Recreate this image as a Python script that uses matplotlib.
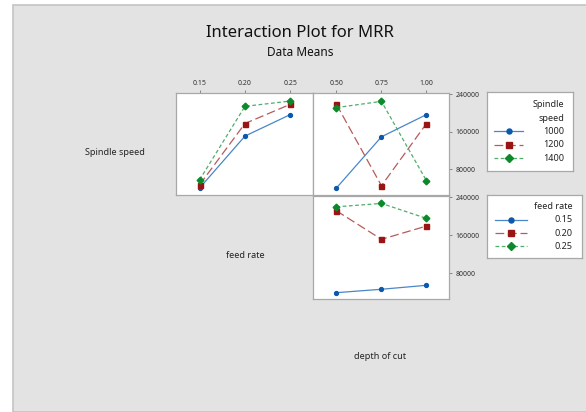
import matplotlib.pyplot as plt
import numpy as np
from matplotlib.lines import Line2D
from matplotlib.patches import Rectangle

plt.rcParams['font.family'] = ['Noto Sans', 'DejaVu Sans']

# factor levels
feed_levels = [0.15, 0.20, 0.25]
depth_levels = [0.50, 0.75, 1.00]
spindle_levels = [1000, 1200, 1400]

# mean MRR, spindle speed x feed rate (rows = spindle speed)
spindle_by_feed = [
    [39900, 150900, 196900],
    [46900, 177800, 218800],
    [57500, 214500, 225800],
]
# spindle speed x depth of cut
spindle_by_depth = [
    [39900, 149400, 196900],
    [218800, 44800, 177800],
    [211800, 225100, 55400],
]
# feed rate x depth of cut (rows = feed rate)
feed_by_depth = [
    [38400, 45600, 54000],
    [211700, 151300, 179400],
    [220100, 227300, 195600],
]

yticks = [80000, 160000, 240000]

colors = ['#0a58b0', '#9a1414', '#0a8a2a']
line_colors = ['#4a86c8', '#b85a5a', '#4fae6a']
markers = ['o', 's', 'D']
msizes = [2.8, 3.6, 3.4]
styles = ['-', (0, (7, 3)), (0, (3, 2))]

bg = '#e3e3e3'
edge = '#a8a8a8'

fig = plt.figure(figsize=(5.86, 4.12), dpi=100)
fig.patch.set_facecolor('white')
fig.add_artist(Rectangle((13 / 586, 0), 1, 1 - 5 / 412, transform=fig.transFigure,
                         facecolor=bg, edgecolor='#c4c4c4', lw=1.2, zorder=-10))

fig.text(0.512, 0.92, 'Interaction Plot for MRR', ha='center', va='center', fontsize=12, color='#111111')
fig.text(0.512, 0.873, 'Data Means', ha='center', va='center', fontsize=8.5, color='#111111')

fig.text(0.196, 0.631, 'Spindle speed', ha='center', va='center', fontsize=6.5, color='#222222')
fig.text(0.418, 0.381, 'feed rate', ha='center', va='center', fontsize=6.5, color='#222222')
fig.text(0.648, 0.134, 'depth of cut', ha='center', va='center', fontsize=6.5, color='#222222')


def make_panel(rect, xs, rows, top_ticks, right_ticks):
    ax = fig.add_axes(rect)
    ax.set_facecolor('white')
    for i, ys in enumerate(rows):
        ax.plot(xs, ys, color=line_colors[i], ls=styles[i], lw=0.9)
        ax.plot(xs, ys, ls='none', marker=markers[i], ms=msizes[i], color=colors[i])
    span = xs[-1] - xs[0]
    ax.set_xlim(xs[0] - 0.26 * span, xs[-1] + 0.25 * span)
    ax.set_ylim(25000, 243000)
    for s in ax.spines.values():
        s.set_color(edge)
        s.set_linewidth(0.9)
    ax.tick_params(colors='#777777', labelcolor='#333333', labelsize=5, length=2.5, width=0.6, pad=2)
    if top_ticks:
        ax.xaxis.tick_top()
        ax.set_xticks(xs)
        ax.set_xticklabels(['%.2f' % v for v in xs])
    else:
        ax.set_xticks([])
    if right_ticks:
        ax.yaxis.tick_right()
        ax.set_yticks(yticks)
        ax.set_yticklabels([str(v) for v in yticks])
    else:
        ax.set_yticks([])
    return ax


make_panel([176 / 586, 1 - 195 / 412, 137 / 586, 102 / 412], feed_levels, spindle_by_feed, True, False)
make_panel([313 / 586, 1 - 195 / 412, 136 / 586, 102 / 412], depth_levels, spindle_by_depth, True, True)
make_panel([313 / 586, 1 - 299 / 412, 136 / 586, 103 / 412], depth_levels, feed_by_depth, False, True)


def make_legend(rect, title_lines, labels):
    lg = fig.add_axes(rect)
    lg.set_xlim(0, 1)
    lg.set_ylim(0, 1)
    lg.set_xticks([])
    lg.set_yticks([])
    lg.set_facecolor('white')
    for s in lg.spines.values():
        s.set_color(edge)
        s.set_linewidth(0.9)
    n = len(title_lines) + len(labels)
    step = 0.84 / n
    y = 0.92 - step / 2
    for t in title_lines:
        lg.text(0.9, y, t, ha='right', va='center', fontsize=6.5, color='#222222')
        y -= step
    for i, lab in enumerate(labels):
        lg.add_line(Line2D([0.08, 0.42], [y, y], color=line_colors[i], ls=styles[i], lw=0.9))
        lg.plot([0.25], [y], marker=markers[i], ms=msizes[i] + 0.8, color=colors[i])
        lg.text(0.9, y, lab, ha='right', va='center', fontsize=6.5, color='#222222')
        y -= step
    return lg


make_legend([487 / 586, 1 - 171 / 412, 86 / 586, 79 / 412], ['Spindle', 'speed'],
            [str(v) for v in spindle_levels])
make_legend([487 / 586, 1 - 258 / 412, 95 / 586, 63 / 412], ['feed rate'],
            ['%.2f' % v for v in feed_levels])

fig.savefig('out.png', dpi=100)
